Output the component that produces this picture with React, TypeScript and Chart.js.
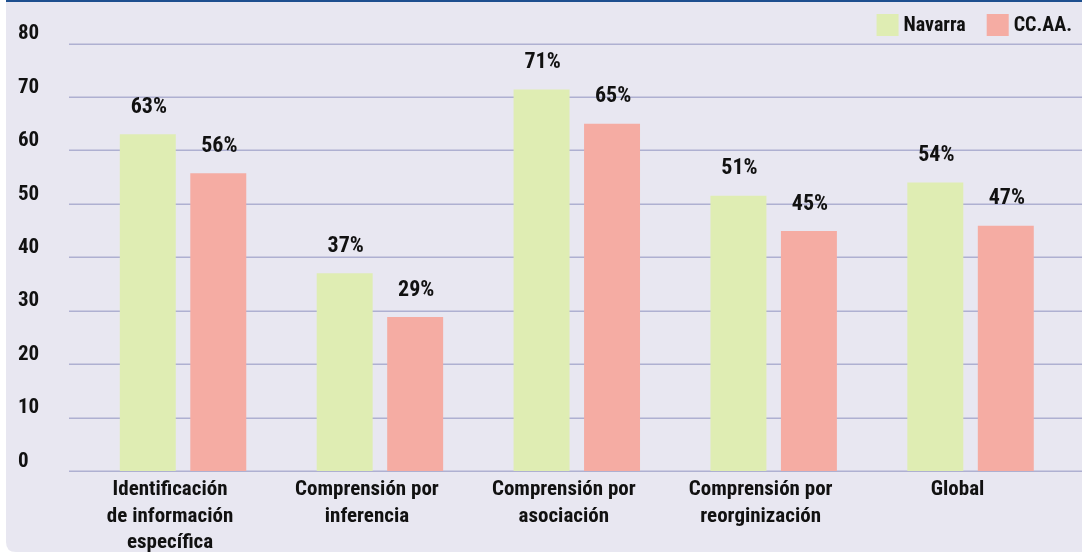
import React, { useEffect, useRef } from "react";
import { Chart, registerables } from "chart.js";

Chart.register(...registerables);

const categories: string[][] = [
  ["Identificación", "de información", "específica"],
  ["Comprensión por", "inferencia"],
  ["Comprensión por", "asociación"],
  ["Comprensión por", "reorginización"],
  ["Global"],
];
const seriesNames = ["Navarra", "CC.AA."];
const navarraValues = [63, 37, 71.4, 51.5, 54];
const ccaaValues = [55.7, 28.8, 65, 44.9, 45.9];
const navarraLabels = ["63%", "37%", "71%", "51%", "54%"];
const ccaaLabels = ["56%", "29%", "65%", "45%", "47%"];
const yMin = 0;
const yMax = 80;
const yStep = 10;

const FONT = "'Roboto Condensed', 'Open Sans Condensed', 'DejaVu Sans Condensed', sans-serif";
const BG = "#e8e7f1";
const GREEN = "#dfedb3";
const RED = "#f5aca3";
const GRID = "#aeb0d1";
const TEXT = "#111111";

const backgroundPlugin = {
  id: "bgPanel",
  beforeDraw(chart: any) {
    const { ctx, width, height } = chart;
    ctx.save();
    ctx.fillStyle = "#ffffff";
    ctx.fillRect(0, 0, width, height);
    ctx.fillStyle = BG;
    const x0 = 6;
    const r = 10;
    ctx.beginPath();
    ctx.moveTo(x0, 0);
    ctx.lineTo(width, 0);
    ctx.lineTo(width, height);
    ctx.lineTo(x0 + r, height);
    ctx.quadraticCurveTo(x0, height, x0, height - r);
    ctx.closePath();
    ctx.fill();
    ctx.fillStyle = "#1d4f8f";
    ctx.fillRect(x0, 0, width - x0, 2);
    ctx.restore();
  },
};

const gridPlugin = {
  id: "extGrid",
  beforeDatasetsDraw(chart: any) {
    const { ctx } = chart;
    const y = chart.scales.y;
    ctx.save();
    ctx.strokeStyle = GRID;
    ctx.lineWidth = 1.5;
    y.ticks.forEach((t: any) => {
      const py = Math.round(y.getPixelForValue(t.value)) + 0.25;
      ctx.beginPath();
      ctx.moveTo(69, py);
      ctx.lineTo(chart.width, py);
      ctx.stroke();
    });
    ctx.restore();
  },
};

const valueLabelPlugin = {
  id: "valueLabels",
  afterDatasetsDraw(chart: any) {
    const { ctx } = chart;
    const labelSets = [navarraLabels, ccaaLabels];
    ctx.save();
    ctx.font = `bold 22px ${FONT}`;
    ctx.fillStyle = TEXT;
    ctx.textAlign = "center";
    ctx.textBaseline = "middle";
    chart.data.datasets.forEach((_: any, di: number) => {
      const meta = chart.getDatasetMeta(di);
      meta.data.forEach((el: any, i: number) => {
        ctx.fillText(labelSets[di][i], el.x + 1, el.y - 27);
      });
    });
    ctx.restore();
  },
};

const legendPlugin = {
  id: "customLegend",
  afterDraw(chart: any) {
    const { ctx } = chart;
    ctx.save();
    ctx.font = `bold 20px ${FONT}`;
    ctx.textBaseline = "middle";
    ctx.textAlign = "left";
    const boxSize = 22;
    const gap = 5;
    const itemGap = 21;
    const rightEdge = 1072;
    const ds = chart.data.datasets;
    const widths = ds.map((d: any) => boxSize + gap + ctx.measureText(d.label).width);
    const total = widths.reduce((a: number, b: number) => a + b, 0) + itemGap * (ds.length - 1);
    let x = rightEdge - total;
    const yTop = 14;
    ds.forEach((d: any, i: number) => {
      ctx.fillStyle = d.backgroundColor;
      ctx.fillRect(x, yTop, boxSize, boxSize);
      ctx.fillStyle = TEXT;
      ctx.fillText(d.label, x + boxSize + gap, yTop + boxSize / 2 + 1);
      x += widths[i] + itemGap;
    });
    ctx.restore();
  },
};

export default function App() {
  const canvasRef = useRef<HTMLCanvasElement | null>(null);

  useEffect(() => {
    document.body.style.margin = "0";
    const canvas = canvasRef.current;
    if (!canvas) return;
    const chart = new Chart(canvas, {
      type: "bar",
      data: {
        labels: categories,
        datasets: [
          {
            label: seriesNames[0],
            data: navarraValues,
            backgroundColor: GREEN,
            barPercentage: 0.794,
            categoryPercentage: 0.716,
          },
          {
            label: seriesNames[1],
            data: ccaaValues,
            backgroundColor: RED,
            barPercentage: 0.794,
            categoryPercentage: 0.716,
          },
        ],
      },
      options: {
        responsive: false,
        animation: false,
        devicePixelRatio: 1,
        layout: { padding: { left: 18, right: 13, top: 43.5, bottom: 0 } },
        plugins: {
          legend: { display: false },
          tooltip: { enabled: false },
        },
        scales: {
          x: {
            grid: { display: false, drawTicks: false },
            border: { display: false },
            ticks: {
              color: TEXT,
              font: { family: FONT, size: 21, weight: "bold", lineHeight: 1.26 },
              padding: 6,
              labelOffset: -13,
              maxRotation: 0,
              autoSkip: false,
            },
            afterFit(scale: any) {
              scale.height = 81;
            },
          },
          y: {
            min: yMin,
            max: yMax,
            grid: { display: false, drawTicks: false },
            border: { display: false },
            ticks: {
              stepSize: yStep,
              color: TEXT,
              crossAlign: "far",
              labelOffset: -9.5,
              font: { family: FONT, size: 21, weight: "bold" },
            },
            afterFit(scale: any) {
              scale.width = 66.6;
            },
          },
        },
      },
      plugins: [backgroundPlugin, gridPlugin, valueLabelPlugin, legendPlugin],
    } as any);
    return () => chart.destroy();
  }, []);

  return (
    <div style={{ position: "absolute", left: 0, top: 0, width: 1082, height: 552 }}>
      <canvas ref={canvasRef} width={1082} height={552} style={{ display: "block" }} />
    </div>
  );
}
